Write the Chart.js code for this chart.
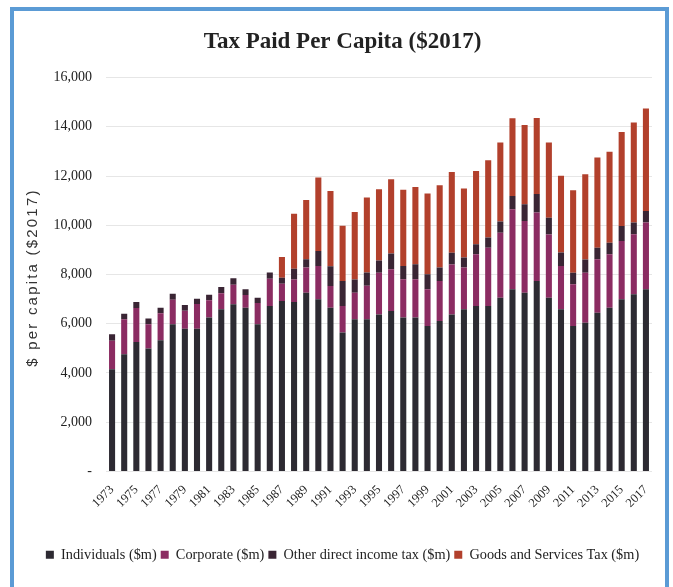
<!DOCTYPE html>
<html>
<head>
<meta charset="utf-8">
<title>Tax Paid Per Capita ($2017)</title>
<script src="https://cdn.jsdelivr.net/npm/chart.js@4/dist/chart.umd.min.js"></script>
<style>
  html, body { margin: 0; padding: 0; background: #fff; overflow: hidden; }
  #wrap { position: relative; width: 673px; height: 587px; }
  #frame {
    position: absolute; left: 10px; top: 7px; width: 651px; height: 600px;
    border: 4px solid #5b9bd5; border-bottom: none; pointer-events: none;
  }
  canvas { position: absolute; left: 0; top: 0; }
</style>
</head>
<body>
<div id="wrap">
  <canvas id="taxChart" width="673" height="587"></canvas>
  <div id="frame"></div>
</div>
<script>
// years
const years = [
  '1973','1974','1975','1976','1977','1978','1979','1980','1981','1982',
  '1983','1984','1985','1986','1987','1988','1989','1990','1991','1992',
  '1993','1994','1995','1996','1997','1998','1999','2000','2001','2002',
  '2003','2004','2005','2006','2007','2008','2009','2010','2011','2012',
  '2013','2014','2015','2016','2017'
];

// $ per capita, 2017 dollars
const individuals = [
  4150, 4760, 5260, 4990, 5330, 5980, 5800, 5800, 6250, 6590,
  6790, 6650, 5980, 6720, 6920, 6880, 7260, 6990, 6650, 5640,
  6180, 6180, 6380, 6520, 6250, 6250, 5910, 6110, 6380, 6590,
  6720, 6720, 7060, 7400, 7260, 7740, 7060, 6590, 5910, 6040,
  6450, 6650, 6990, 7200, 7400
];
const corporate = [
  1160, 1420, 1380, 990, 1100, 990, 730, 1000, 700, 650,
  790, 520, 860, 1110, 700, 920, 1020, 1360, 880, 1080,
  1080, 1360, 1690, 1690, 1560, 1560, 1490, 1630, 2030, 1690,
  2100, 2370, 2640, 3250, 2910, 2780, 2570, 1760, 1690, 2030,
  2170, 2170, 2370, 2440, 2710
];
const otherDirect = [
  260, 230, 240, 230, 220, 250, 230, 220, 230, 250,
  270, 230, 220, 250, 250, 430, 340, 610, 810, 1020,
  540, 540, 500, 640, 540, 610, 610, 540, 470, 410,
  410, 410, 450, 540, 680, 750, 680, 540, 470, 540,
  470, 470, 610, 470, 470
];
const gst = [
  0, 0, 0, 0, 0, 0, 0, 0, 0, 0,
  0, 0, 0, 0, 840, 2240, 2410, 2980, 3050, 2240,
  2740, 3050, 2890, 3020, 3090, 3140, 3280, 3350, 3280, 2800,
  2980, 3140, 3210, 3160, 3220, 3090, 3050, 3120, 3350, 3460,
  3660, 3700, 3820, 4070, 4160
];
const yTicks = [0, 2000, 4000, 6000, 8000, 10000, 12000, 14000, 16000];
const yTitle = '$ per capita ($2017)';

const serif = "'Liberation Serif', 'DejaVu Serif', serif";
const barPct = 0.5;

function series(label, data, color) {
  return {
    label: label,
    data: data,
    backgroundColor: color,
    borderWidth: 0,
    barPercentage: barPct,
    categoryPercentage: 1
  };
}

// rotated y-axis caption, letter-spaced a little
const yCaption = {
  id: 'yCaption',
  afterDraw(chart) {
    const a = chart.chartArea;
    const c = chart.ctx;
    c.save();
    c.translate(33, (a.top + a.bottom) / 2 + 3);
    c.rotate(-Math.PI / 2);
    c.font = "15px 'Liberation Sans', 'DejaVu Sans', sans-serif";
    c.letterSpacing = '2.2px';
    c.fillStyle = '#333';
    c.textAlign = 'center';
    c.textBaseline = 'middle';
    c.fillText(yTitle, 0, 0);
    c.restore();
  }
};

const ctx = document.getElementById('taxChart').getContext('2d');
new Chart(ctx, {
  type: 'bar',
  data: {
    labels: years,
    datasets: [
      series('Individuals ($m)', individuals, '#2d2a32'),
      series('Corporate ($m)', corporate, '#8b2c62'),
      series('Other direct income tax ($m)', otherDirect, '#3a2534'),
      series('Goods and Services Tax ($m)', gst, '#b2402c')
    ]
  },
  plugins: [yCaption],
  options: {
    responsive: false,
    animation: false,
    layout: { padding: { top: 28, left: 12, right: 0, bottom: 15 } },
    plugins: {
      title: {
        display: true,
        text: 'Tax Paid Per Capita ($2017)',
        color: '#222',
        font: { family: serif, size: 23, weight: 'bold' },
        padding: { top: 0, bottom: 22 }
      },
      legend: {
        position: 'bottom',
        labels: {
          color: '#222',
          font: { family: serif, size: 14.3 },
          boxWidth: 8,
          boxHeight: 8,
          padding: 4
        }
      },
      tooltip: { enabled: false }
    },
    scales: {
      x: {
        stacked: true,
        grid: { display: false },
        border: { display: false },
        afterFit: function (s) { s.height += 30; },
        ticks: {
          autoSkip: false,
          maxRotation: 45,
          minRotation: 45,
          color: '#222',
          font: { family: serif, size: 12.5 },
          callback: function (val, i) { return i % 2 === 0 ? years[i] : ''; }
        }
      },
      y: {
        stacked: true,
        min: 0,
        max: 16000,
        afterBuildTicks: function (axis) {
          axis.ticks = yTicks.map(function (v) { return { value: v }; });
        },
        afterFit: function (s) { s.width = 94; },
        grid: { color: '#e6e6e6', drawTicks: false },
        border: { display: false },
        ticks: {
          color: '#222',
          padding: 14,
          font: { family: serif, size: 14 },
          callback: function (v) { return v === 0 ? '-' : v.toLocaleString('en-US'); }
        }
      },
      // empty right-hand strip, keeps the plot clear of the frame
      yPad: {
        position: 'right',
        grid: { display: false, drawTicks: false },
        border: { display: false },
        ticks: { display: false },
        afterFit: function (s) { s.width = 21; }
      }
    }
  }
});
</script>
</body>
</html>
